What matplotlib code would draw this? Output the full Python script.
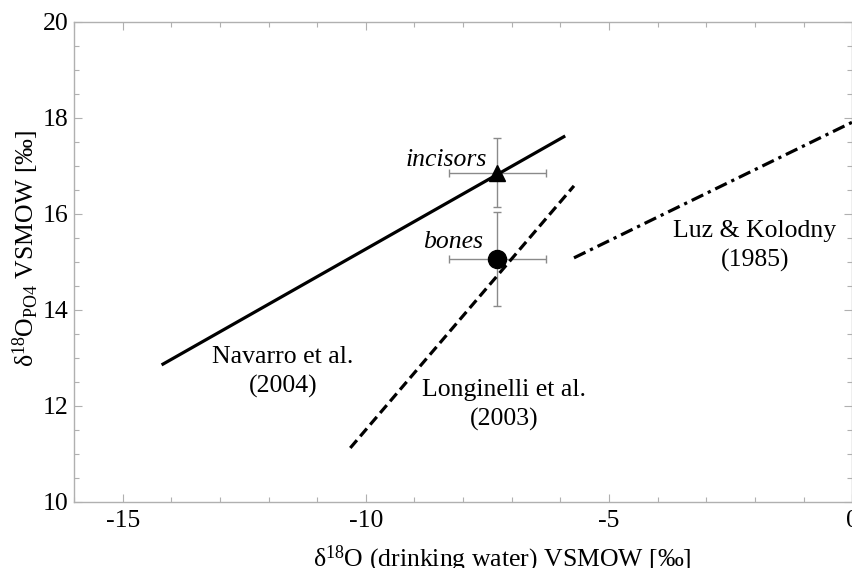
import matplotlib
matplotlib.use('Agg')
import matplotlib.pyplot as plt

plt.rcParams['font.family'] = ['Liberation Serif', 'DejaVu Serif']
plt.rcParams['mathtext.fontset'] = 'custom'
plt.rcParams['mathtext.rm'] = 'Liberation Serif'
plt.rcParams['mathtext.it'] = 'Liberation Serif:italic'

# calibration lines (end points)
navarro_x = [-14.2, -5.9]
navarro_y = [12.85, 17.62]
longinelli_x = [-10.32, -5.72]
longinelli_y = [11.12, 16.58]
luz_x = [-5.72, 0.05]
luz_y = [15.08, 17.93]

# measured samples
sample_names = ['incisors', 'bones']
sample_x = [-7.3, -7.3]
sample_y = [16.85, 15.05]
sample_xerr = [1.0, 1.0]
sample_yerr = [0.72, 0.98]
sample_markers = ['^', 'o']
sample_sizes = [11, 13]

fig = plt.figure(figsize=(8.53, 5.68), dpi=100)
ax = fig.add_axes([0.0868, 0.1167, 0.9122, 0.8451])

for i in range(len(sample_names)):
    ax.errorbar(sample_x[i], sample_y[i], xerr=sample_xerr[i], yerr=sample_yerr[i],
                fmt='none', ecolor='#8a8a8a', elinewidth=1.0, capsize=3, capthick=1.0, zorder=2)

ax.plot(navarro_x, navarro_y, color='black', lw=2.3, solid_capstyle='butt', zorder=3)
ax.plot(longinelli_x, longinelli_y, color='black', lw=2.3, dashes=(3.2, 1.6), zorder=3)
ax.plot(luz_x, luz_y, color='black', lw=2.3, dashes=(4.0, 1.6, 1.0, 1.6), zorder=3)

for i in range(len(sample_names)):
    ax.plot(sample_x[i], sample_y[i], marker=sample_markers[i], color='black',
            markersize=sample_sizes[i], linestyle='none', zorder=4)

fs = 18.5
ax.text(-7.5, 17.12, 'incisors', style='italic', fontsize=fs, ha='right', va='center')
ax.text(-7.58, 15.42, 'bones', style='italic', fontsize=fs, ha='right', va='center')
ax.text(-11.7, 12.7, 'Navarro et al.\n(2004)', fontsize=fs, ha='center', va='center',
        linespacing=1.4)
ax.text(-7.15, 12.02, 'Longinelli et al.\n(2003)', fontsize=fs, ha='center', va='center',
        linespacing=1.4)
ax.text(-2.0, 15.33, 'Luz & Kolodny\n(1985)', fontsize=fs, ha='center', va='center',
        linespacing=1.4)

ax.set_xlim(-16, 0)
ax.set_ylim(10, 20)
ax.set_xticks([-15, -10, -5, 0])
ax.set_xticklabels(['-15', '-10', '-5', '0'])
ax.set_xticks(range(-16, 1), minor=True)
ax.set_yticks([10, 12, 14, 16, 18, 20])
ax.set_yticks([10 + 0.5 * k for k in range(21)], minor=True)

ax.tick_params(which='both', direction='in', top=True, right=True, color='#b0b0b0',
               labelsize=fs, width=0.8)
ax.tick_params(which='major', length=6, pad=6)
ax.tick_params(which='minor', length=3.5)
ax.tick_params(axis='y', pad=4)
for s in ax.spines.values():
    s.set_color('#b0b0b0')
    s.set_linewidth(1.0)

ax.set_xlabel('δ$^{18}$O (drinking water) VSMOW [‰]', fontsize=fs, va='top')
ax.xaxis.set_label_coords(0.551, -0.088)
ax.set_ylabel('δ$^{18}$O$_{\\rm PO4}$ VSMOW [‰]', fontsize=fs)
ax.yaxis.set_label_coords(-0.042, 0.5285)

fig.savefig('out.png', dpi=100)
